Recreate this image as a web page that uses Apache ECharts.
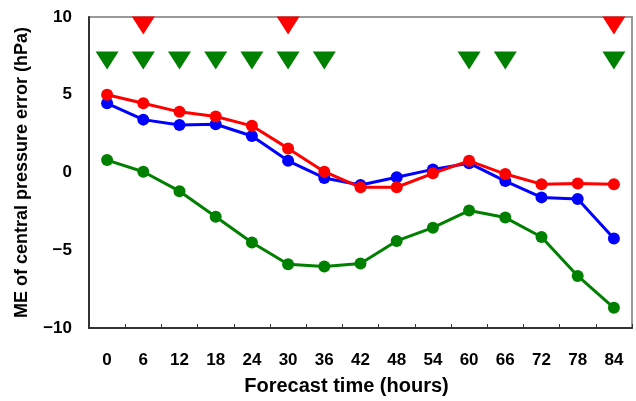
<!DOCTYPE html>
<html>
<head>
<meta charset="utf-8">
<script src="https://cdn.jsdelivr.net/npm/echarts@6/dist/echarts.min.js"></script>
<style>
html,body{margin:0;padding:0;background:#fff;}
#c{width:636px;height:401px;}
</style>
</head>
<body>
<div id="c"></div>
<script>
var categories = ['0','6','12','18','24','30','36','42','48','54','60','66','72','78','84'];
var redValues   = [5.0, 4.45, 3.9, 3.6, 3.0, 1.55, 0.05, -0.95, -0.95, -0.05, 0.75, -0.1, -0.75, -0.7, -0.75];
var blueValues  = [4.45, 3.4, 3.05, 3.1, 2.35, 0.75, -0.35, -0.8, -0.3, 0.2, 0.6, -0.55, -1.6, -1.7, -4.25];
var greenValues = [0.8, 0.05, -1.2, -2.85, -4.5, -5.9, -6.05, -5.85, -4.4, -3.55, -2.45, -2.9, -4.15, -6.65, -8.7];
var redMarkCats   = ['6','30','84'];
var redMarkLevel  = 9.45;
var greenMarkCats = ['0','6','12','18','24','30','36','60','66','84'];
var greenMarkLevel = 7.2;
var yTicks = [-10, -5, 0, 5, 10];

var FONT = 'Liberation Sans';
var chart = echarts.init(document.getElementById('c'), null, {renderer:'canvas'});

function lineSeries(data, color, z) {
  return {
    type: 'line', data: data, z: z,
    symbol: 'circle', symbolSize: 12,
    itemStyle: {color: color, opacity: 1},
    lineStyle: {color: color, width: 3},
    animation: false
  };
}
function markSeries(cats, level, color) {
  return {
    type: 'scatter', clip: true, z: 5,
    data: cats.map(function(c){ return [c, level]; }),
    symbol: 'triangle', symbolRotate: 180, symbolSize: [23, 18],
    itemStyle: {color: color, opacity: 1},
    animation: false
  };
}

chart.setOption({
  animation: false,
  grid: {
    left: 89, right: 4, top: 17, bottom: 73,
    show: true, borderColor: '#999', borderWidth: 2, backgroundColor: 'transparent'
  },
  xAxis: {
    type: 'category', data: categories, boundaryGap: true,
    name: 'Forecast time (hours)', nameLocation: 'middle', nameGap: 48,
    nameTextStyle: {fontFamily: FONT, fontSize: 20, fontWeight: 'bold', color: '#000', padding: [0, 28, 0, 0]},
    axisLine: {show: true, onZero: false, lineStyle: {color: '#333', width: 2}},
    axisTick: {show: true, inside: true, length: 4, lineStyle: {color: '#333', width: 1}},
    axisLabel: {fontFamily: FONT, fontSize: 17, fontWeight: 'bold', color: '#000', margin: 24},
    splitLine: {show: false}
  },
  yAxis: {
    type: 'value', min: yTicks[0], max: yTicks[yTicks.length-1], interval: 5,
    name: 'ME of central pressure error (hPa)', nameLocation: 'middle', nameGap: 58,
    nameTextStyle: {fontFamily: FONT, fontSize: 18, fontWeight: 'bold', color: '#000'},
    axisLine: {show: true, onZero: false, lineStyle: {color: '#333', width: 2}},
    axisTick: {show: false},
    axisLabel: {
      fontFamily: FONT, fontSize: 17, fontWeight: 'bold', color: '#000', margin: 17,
      formatter: function(v){ return String(v).replace('-', '\u2212'); }
    },
    splitLine: {show: false}
  },
  series: [
    lineSeries(greenValues, '#008000', 2),
    lineSeries(blueValues, '#0000ff', 3),
    lineSeries(redValues, '#ff0000', 4),
    markSeries(greenMarkCats, greenMarkLevel, '#008000'),
    markSeries(redMarkCats, redMarkLevel, '#ff0000')
  ]
});
</script>
</body>
</html>
